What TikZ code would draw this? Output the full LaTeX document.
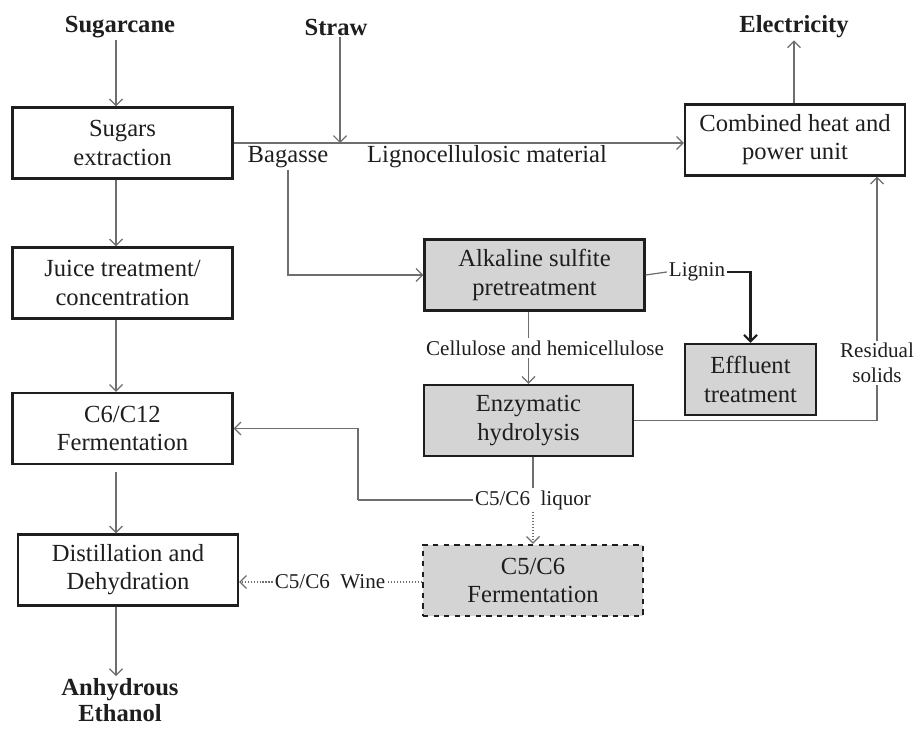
\documentclass[tikz,border=0pt]{standalone}
\usepackage{fontspec}
\setmainfont{Liberation Serif}
\usetikzlibrary{scopes,arrows.meta}
\definecolor{boxgray}{RGB}{212,212,212}
\definecolor{linegray}{RGB}{110,110,110}
\definecolor{ink}{RGB}{30,30,30}

\begin{document}
\begin{tikzpicture}[
  x=0.02cm, y=-0.02cm,
  >={Straight Barb[length=1.3mm,width=2.6mm]},
  box/.style={draw=ink, line width=1.3pt, fill=white, text=ink, align=center,
    minimum width=4.4cm, minimum height=1.42cm, inner sep=1pt,
    font=\fontsize{14}{16}\selectfont},
  greybox/.style={box, fill=boxgray},
  feed/.style={text=ink, align=center, inner sep=1pt, font=\fontsize{14}{15}\selectfont\bfseries},
  bigtag/.style={text=ink, inner sep=1pt, font=\fontsize{14}{16}\selectfont},
  tag/.style={text=ink, align=center, inner sep=1pt, font=\fontsize{12}{14}\selectfont},
  flow/.style={draw=linegray, line width=0.7pt},
  dots/.style={draw=linegray, line width=0.7pt, densely dotted},
  ]

  \useasboundingbox (0,0) rectangle (918,729);

  %% Feeds and products
  \node[feed] (sugarcane) at (120,27) {Sugarcane};
  \node[feed] (straw) at (336,27) {Straw};
  \node[feed] (electricity) at (794,27) {Electricity};
  \node[feed] (ethanol) at (120,700) {Anhydrous\\Ethanol};
  \coordinate (lane) at (116,0);

  % 1G blocks (white)
  \node[box] (sugars) at (122.5,143) {Sugars\\extraction};
  \node[box] (juice) at (122.5,283) {Juice treatment/\\concentration};
  \node[box] (c6c12) at (122.5,428.5) {C6/C12\\Fermentation};
  \node[box] (distill) at (128,570) {Distillation and\\Dehydration};
  \node[box] (chp) at (795,140) {Combined heat and\\power unit};

  % 2G blocks (grey)
  \node[greybox] (alkaline) at (534.5,275) {Alkaline sulfite\\pretreatment};
  \node[greybox, minimum width=4.18cm] (enzymatic) at (528.5,420.5) {Enzymatic\\hydrolysis};
  \node[greybox, minimum width=2.62cm] (effluent) at (750.5,379.5) {Effluent\\treatment};
  \node[greybox, dashed] (c5c6) at (533,580.5) {C5/C6\\Fermentation};

  % Stream labels
  \node[bigtag] (bagasse) at (288,157) {Bagasse};
  \node[bigtag] (ligno) at (487,157) {Lignocellulosic material};
  \node[tag] (cellulose) at (545,348) {Cellulose and hemicellulose};
  \node[tag] (lignin) at (697,272) {Lignin};
  \node[tag] (residual) at (877,363) {Residual\\solids};
  \node[tag] (liquor) at (533,500) {C5/C6\enspace liquor};
  \node[tag] (wine) at (330,582) {C5/C6\enspace Wine};
  \coordinate (strawin) at (340,143);
  \coordinate (bend) at (358,500);

  %% 1G line
  {[flow,->]
    \draw (sugarcane.south -| lane) -- (sugars.north -| lane);
    \draw (sugars.south -| lane) -- (juice.north -| lane);
    \draw (juice.south -| lane) -- (c6c12.north -| lane);
    \draw ([yshift=-4pt]c6c12.south -| lane) -- (distill.north -| lane);
    \draw (distill.south -| lane) -- (ethanol.north -| lane);
    \draw (sugars.east) -- (sugars.east -| chp.west);
    \draw (straw.south -| strawin) -- (strawin);
    \draw (chp.north -| electricity) -- (electricity.south);
  }

  %% 2G line
  {[flow]
    \draw[->] (bagasse.south) |- (alkaline.west);
    \draw (alkaline.south -| enzymatic) -- (cellulose.north -| enzymatic);
    \draw[->] (cellulose.south -| enzymatic) -- (enzymatic.north);
    \draw (enzymatic.south -| liquor) -- (liquor.north);
    \draw (liquor.west) -- (bend);
    \draw[->] (bend) |- (c6c12.east);
    \draw (enzymatic.east) -| (residual.south);
    \draw[->] (residual.north) -- (residual.north |- chp.south);
  }

  % Lignin to effluent
  \draw[draw=linegray, line width=0.7pt] (alkaline.east) -- (lignin.west);
  \draw[->, draw=ink, line width=1.2pt] (lignin.east) -| (effluent.north);

  % Pentose route (dotted)
  {[dots]
    \draw[->] (liquor.south) -- (c5c6.north);
    \draw (c5c6.west |- wine) -- (wine.east);
    \draw[->] (wine.west) -- (wine.west -| distill.east);
  }

\end{tikzpicture}
\end{document}
